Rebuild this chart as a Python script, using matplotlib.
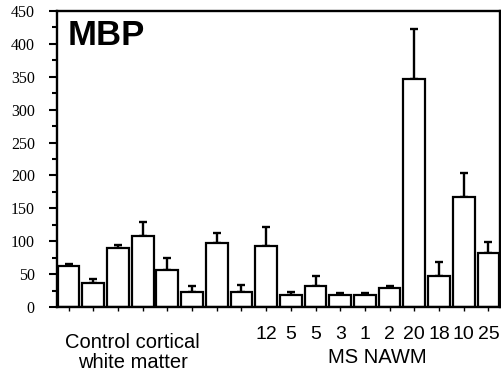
import numpy as np
import matplotlib
matplotlib.use("Agg")
import matplotlib.pyplot as plt
from matplotlib.ticker import MultipleLocator

# control cortical white matter (8 samples), MS NAWM (10 samples)
control_vals = [63, 37, 90, 108, 56, 23, 98, 23]
control_err = [3, 5, 5, 22, 18, 9, 15, 11]

ms_labels = ["12", "5", "5", "3", "1", "2", "20", "18", "10", "25"]
ms_vals = [93, 18, 32, 18, 18, 29, 346, 47, 167, 82]
ms_err = [28, 5, 15, 3, 3, 3, 77, 22, 36, 17]

values = control_vals + ms_vals
errors = control_err + ms_err
tick_labels = [""] * len(control_vals) + ms_labels
x = np.arange(len(values))

fig = plt.figure(figsize=(5.02, 3.74), dpi=100)
ax = fig.add_axes([0.1135, 0.179, 0.8825, 0.7916])

ax.bar(x, values, width=0.88, color="white", edgecolor="black", linewidth=1.6, zorder=2)
ax.errorbar(x, values, yerr=[np.zeros(len(errors)), errors], fmt="none",
            ecolor="black", elinewidth=1.7, capsize=3, capthick=1.7, zorder=1)

ax.set_xlim(-0.47, len(values) - 0.53)
ax.set_ylim(0, 450)

ax.yaxis.set_major_locator(MultipleLocator(50))
ax.yaxis.set_minor_locator(MultipleLocator(25))
ax.tick_params(axis="y", which="major", length=6, width=1.5, direction="out", pad=10)
ax.tick_params(axis="y", which="minor", length=3.5, width=1.5, direction="out")
for lab in ax.get_yticklabels():
    lab.set_fontfamily("Liberation Serif")
    lab.set_fontsize(11.5)

ax.set_xticks(x)
ax.set_xticklabels(tick_labels, fontfamily="Liberation Sans", fontsize=14)
ax.tick_params(axis="x", length=3, width=1, direction="out", pad=10.5)

for side in ["left", "bottom", "right", "top"]:
    ax.spines[side].set_linewidth(1.7)

ax.text(0.025, 0.885, "MBP", transform=ax.transAxes, fontfamily="Liberation Sans",
        fontweight="bold", fontsize=25, va="baseline", ha="left")

trans = ax.get_xaxis_transform()
ax.text(2.6, -0.154, "Control cortical\nwhite matter", transform=trans, ha="center",
        va="center", fontfamily="Liberation Sans", fontsize=14.5, linespacing=1.05)
ax.text(12.5, -0.172, "MS NAWM", transform=trans, ha="center", va="center",
        fontfamily="Liberation Sans", fontsize=14.5)

fig.savefig("out.png", dpi=100)
